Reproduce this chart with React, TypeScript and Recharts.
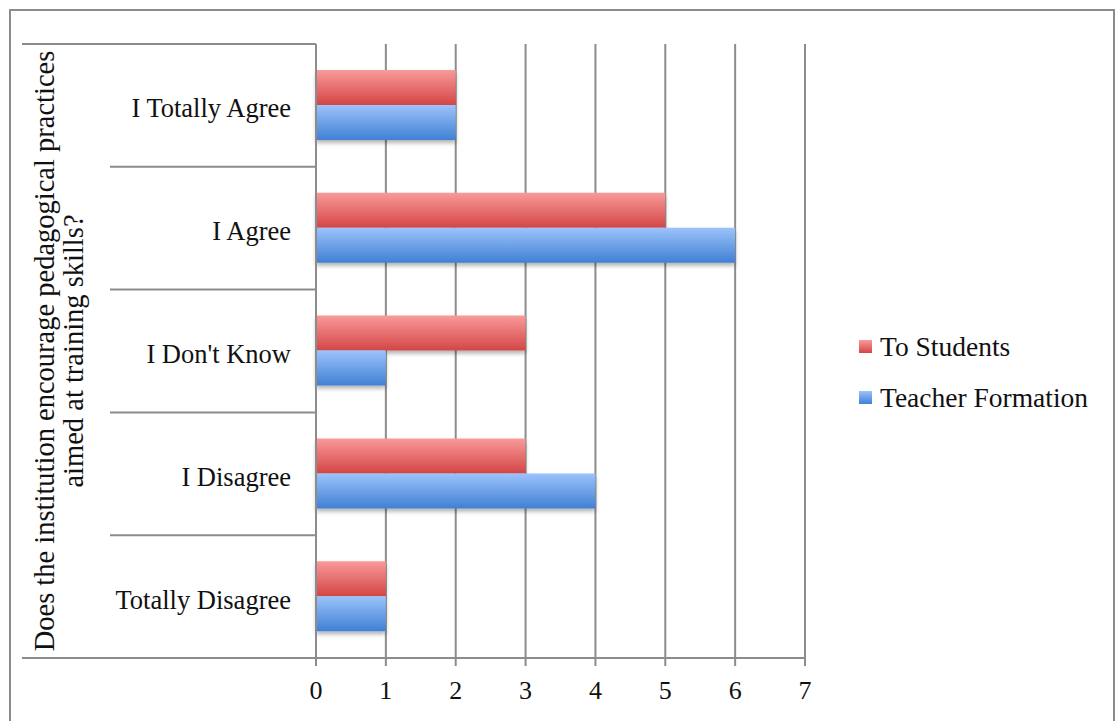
import React from "react";
import { BarChart, Bar, XAxis, YAxis, CartesianGrid } from "recharts";

const CATEGORIES = ["I Totally Agree", "I Agree", "I Don't Know", "I Disagree", "Totally Disagree"];
const TO_STUDENTS = [2, 5, 3, 3, 1];
const TEACHER_FORMATION = [2, 6, 1, 4, 1];
const X_TICKS = [0, 1, 2, 3, 4, 5, 6, 7];
const TITLE_LINES = ["Does the institution encourage pedagogical practices", "aimed at training skills?"];
const SERIES = [
  { key: "students", label: "To Students", grad: "redFill", from: "#f99a9a", to: "#d44545" },
  { key: "teachers", label: "Teacher Formation", grad: "blueFill", from: "#9cc3fb", to: "#4080d4" },
];

const rows = CATEGORIES.map((name, i) => ({
  name,
  students: TO_STUDENTS[i],
  teachers: TEACHER_FORMATION[i],
}));

const W = 1115;
const H = 721;
const PLOT_LEFT = 316;
const PLOT_RIGHT = 805;
const FONT = "'Liberation Serif', 'Times New Roman', serif";
const AXIS = "#8c8c8c";

function CategoryTick(props: any) {
  const { x, y, payload, index } = props;
  const half = payload?.offset || 61.4;
  const top = y - half;
  return (
    <g>
      <line x1={index === 0 ? 22 : 110} x2={PLOT_LEFT} y1={top} y2={top} stroke={AXIS} strokeWidth={2} />
      {index === CATEGORIES.length - 1 && (
        <line x1={22} x2={PLOT_LEFT} y1={y + half} y2={y + half} stroke={AXIS} strokeWidth={2} />
      )}
      <text x={x} y={y} dy={12} textAnchor="end" fontFamily={FONT} fontSize={26.5} fill="#111">
        {payload.value}
      </text>
    </g>
  );
}

function AxisTitle(props: any) {
  const vb = props.viewBox || { x: 0, y: 44, width: PLOT_LEFT, height: 614 };
  const cy = vb.y + vb.height / 2;
  return (
    <g>
      {TITLE_LINES.map((line, i) => {
        const cx = 44 + i * 29;
        return (
          <text
            key={i}
            x={cx}
            y={cy}
            transform={`rotate(-90 ${cx} ${cy})`}
            textAnchor="middle"
            dominantBaseline="central"
            fontFamily={FONT}
            fontSize={28.5}
            fill="#111"
          >
            {line}
          </text>
        );
      })}
    </g>
  );
}

// legend sits to the right of the plot, vertically centred
function LegendBox() {
  return (
    <div
      style={{
        position: "absolute",
        left: 859,
        top: 321,
        fontFamily: FONT,
        fontSize: 27.5,
        color: "#111",
        lineHeight: 1,
      }}
    >
      {SERIES.map((s) => (
        <div key={s.key} style={{ display: "flex", alignItems: "center", height: 51 }}>
          <span
            style={{
              display: "inline-block",
              width: 13,
              height: 13,
              marginRight: 8,
              background: `linear-gradient(${s.from}, ${s.to})`,
            }}
          />
          {s.label}
        </div>
      ))}
    </div>
  );
}

export default function App() {
  return (
    <div style={{ position: "absolute", left: 0, top: 0, width: W, height: H, background: "#fff", overflow: "hidden" }}>
      <div
        style={{
          position: "absolute",
          left: 9,
          top: 9,
          width: 1102,
          height: 740,
          border: `2px solid ${AXIS}`,
        }}
      />
      <BarChart
        width={W}
        height={H}
        data={rows}
        layout="vertical"
        margin={{ top: 44, right: W - PLOT_RIGHT, bottom: 0, left: 0 }}
        barSize={35}
        barGap={0}
      >
        <defs>
          {SERIES.map((s) => (
            <linearGradient key={s.grad} id={s.grad} x1="0" y1="0" x2="0" y2="1">
              <stop offset="0%" stopColor={s.from} />
              <stop offset="100%" stopColor={s.to} />
            </linearGradient>
          ))}
          <filter id="barShadow" x="-5%" y="-20%" width="110%" height="160%">
            <feDropShadow dx="0" dy="3" stdDeviation="2" floodColor="#000" floodOpacity="0.3" />
          </filter>
        </defs>
        <CartesianGrid horizontal={false} stroke={AXIS} strokeWidth={2} />
        <XAxis
          type="number"
          domain={[0, 7]}
          ticks={X_TICKS}
          interval={0}
          height={63}
          axisLine={{ stroke: AXIS, strokeWidth: 2 }}
          tickLine={{ stroke: AXIS, strokeWidth: 2 }}
          tickSize={8}
          tickMargin={15}
          tick={{ fontFamily: FONT, fontSize: 26, fill: "#111" }}
        />
        <YAxis
          type="category"
          dataKey="name"
          width={PLOT_LEFT}
          axisLine={{ stroke: AXIS, strokeWidth: 2 }}
          tickLine={false}
          tickSize={0}
          tickMargin={25}
          tick={<CategoryTick />}
          interval={0}
          label={<AxisTitle />}
        />
        {SERIES.map((s) => (
          <Bar
            key={s.key}
            dataKey={s.key}
            name={s.label}
            fill={`url(#${s.grad})`}
            filter="url(#barShadow)"
            isAnimationActive={false}
          />
        ))}
      </BarChart>
      <LegendBox />
    </div>
  );
}
